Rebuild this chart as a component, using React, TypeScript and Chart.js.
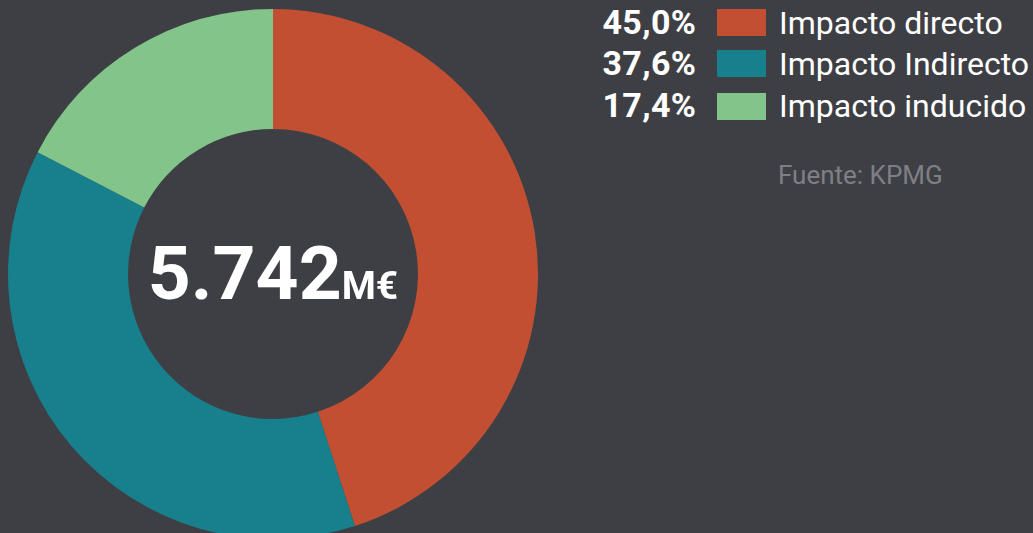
import React, { useEffect, useRef } from "react";
import { Chart, registerables } from "chart.js";

Chart.register(...registerables);

const categories = ["Impacto directo", "Impacto Indirecto", "Impacto inducido"];
const shares = [45.0, 37.6, 17.4];
const shareLabels = ["45,0%", "37,6%", "17,4%"];
const colors = ["#c34f33", "#17808c", "#83c48a"];
const totalLabel = "5.742";
const totalUnit = "M€";
const sourceLabel = "Fuente: KPMG";

const BG = "#3e3f44";
const FONT = "Roboto, 'Noto Sans', sans-serif";

function textTop(baseline: number, fs: number) {
  return baseline - 0.8415 * fs;
}

export default function App() {
  const ref = useRef<HTMLCanvasElement | null>(null);

  useEffect(() => {
    if (!ref.current) return;
    const chart = new Chart(ref.current, {
      type: "doughnut",
      data: {
        labels: categories,
        datasets: [
          {
            data: shares,
            backgroundColor: colors,
            borderWidth: 0,
            hoverOffset: 0,
          },
        ],
      },
      options: {
        responsive: false,
        animation: false,
        cutout: "54.7%",
        rotation: 0,
        layout: { padding: 0 },
        plugins: {
          legend: { display: false },
          tooltip: { enabled: false },
        },
      },
    });
    return () => chart.destroy();
  }, []);

  const rowBaselines = [33.5, 75, 117];
  const swatchTops = [9, 50, 93];
  const legendFs = 32;
  const pctFs = 34;
  const pctSpacing = 0.4;

  return (
    <div
      style={{
        position: "fixed",
        left: 0,
        top: 0,
        width: 1033,
        height: 533,
        background: BG,
        overflow: "hidden",
        fontFamily: FONT,
      }}
    >
      <canvas
        ref={ref}
        width={530}
        height={530}
        style={{ position: "absolute", left: 8, top: 9, width: 530, height: 530 }}
      />
      <div
        style={{
          position: "absolute",
          left: 73,
          width: 400,
          top: textTop(299, 75),
          textAlign: "center",
          fontSize: 75,
          lineHeight: "75px",
          fontWeight: 700,
          color: "#ffffff",
          whiteSpace: "nowrap",
        }}
      >
        {totalLabel}
        <span style={{ fontSize: 39, lineHeight: "39px" }}>{totalUnit}</span>
      </div>
      {categories.map((c, i) => (
        <React.Fragment key={c}>
          <div
            style={{
              position: "absolute",
              right: 1033 - 696 - pctSpacing,
              top: textTop(rowBaselines[i], pctFs),
              fontSize: pctFs,
              lineHeight: pctFs + "px",
              fontWeight: 700,
              letterSpacing: pctSpacing,
              color: "#ffffff",
              whiteSpace: "nowrap",
            }}
          >
            {shareLabels[i]}
          </div>
          <div
            style={{
              position: "absolute",
              left: 717,
              top: swatchTops[i],
              width: 49,
              height: 27,
              background: colors[i],
            }}
          />
          <div
            style={{
              position: "absolute",
              left: 779,
              top: textTop(rowBaselines[i], legendFs),
              fontSize: legendFs,
              lineHeight: legendFs + "px",
              fontWeight: 400,
              color: "#ffffff",
              whiteSpace: "nowrap",
            }}
          >
            {c}
          </div>
        </React.Fragment>
      ))}
      <div
        style={{
          position: "absolute",
          left: 778,
          top: textTop(184, 26),
          fontSize: 26,
          lineHeight: "26px",
          color: "#7e7f84",
          whiteSpace: "nowrap",
        }}
      >
        {sourceLabel}
      </div>
    </div>
  );
}
